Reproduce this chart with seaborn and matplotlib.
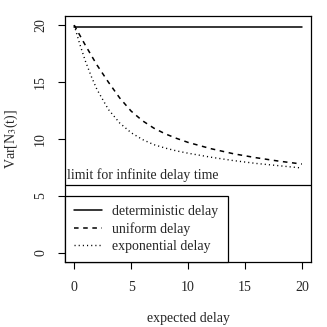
import numpy as np
import pandas as pd
import matplotlib
matplotlib.use("Agg")
import matplotlib.pyplot as plt
import seaborn as sns

# values
delay = [0, 0.5, 1, 1.5, 2, 3, 4, 5, 6, 7, 8, 9, 10, 12, 14, 16, 18, 20]
var_uniform = [20, 19.1, 18.2, 17.35, 16.5, 15.0, 13.6, 12.45, 11.6, 10.95, 10.45, 10.05,
               9.7, 9.15, 8.7, 8.35, 8.05, 7.8]
var_exponential = [20, 18.3, 16.8, 15.5, 14.35, 12.6, 11.4, 10.55, 9.95, 9.5, 9.2, 8.95,
                   8.75, 8.4, 8.1, 7.85, 7.65, 7.45]
var_deterministic = [19.8] * len(delay)
limit_value = 6.0
labels = ["deterministic delay", "uniform delay", "exponential delay"]

sns.set_theme(style="ticks")
plt.rcParams['font.family'] = ['Liberation Serif', 'DejaVu Serif']
plt.rcParams['mathtext.fontset'] = 'stix'
plt.rcParams['font.size'] = 10

fig = plt.figure(figsize=(3.27, 3.27), dpi=100)
ax = fig.add_axes([0.199, 0.199, 0.752, 0.752])

sns.lineplot(x=delay, y=var_deterministic, ax=ax, color='black', lw=1.1,
             label=labels[0])
sns.lineplot(x=delay, y=var_uniform, ax=ax, color='black', lw=1.1,
             linestyle=(0, (3, 3)), label=labels[1])
sns.lineplot(x=delay, y=var_exponential, ax=ax, color='black', lw=1.0,
             linestyle=(0, (0.8, 2.2)), label=labels[2])

# limit line (full width)
ax.axhline(limit_value, color='black', lw=0.9)
ax.text(0.008, limit_value + 0.2, "limit for infinite delay time",
        transform=ax.get_yaxis_transform(), ha='left', va='bottom', fontsize=10)

ax.set_xlim(-0.8, 20.8)
ax.set_ylim(-0.8, 20.8)
ax.set_xticks([0, 5, 10, 15, 20])
ax.set_yticks([0, 5, 10, 15, 20])
for s in ax.spines.values():
    s.set_visible(True)
    s.set_color('black')
    s.set_linewidth(0.9)
ax.tick_params(direction='out', length=5, width=0.8, color='black',
               labelsize=10)
ax.tick_params(axis='x', pad=9)
ax.tick_params(axis='y', pad=8)
for t in ax.get_yticklabels():
    t.set_rotation(90)
    t.set_va('center')

ax.set_xlabel("expected delay", fontsize=10, labelpad=13)
ax.set_ylabel("Var[N$_3$(t)]", fontsize=10, labelpad=10)

leg = ax.legend(loc='lower left', borderaxespad=0, fancybox=False,
                edgecolor='black', framealpha=1, fontsize=10,
                handlelength=2.0, handletextpad=0.75, labelspacing=0.3,
                borderpad=0.65)
leg.get_frame().set_linewidth(0.9)

fig.savefig("out.png", dpi=100)
